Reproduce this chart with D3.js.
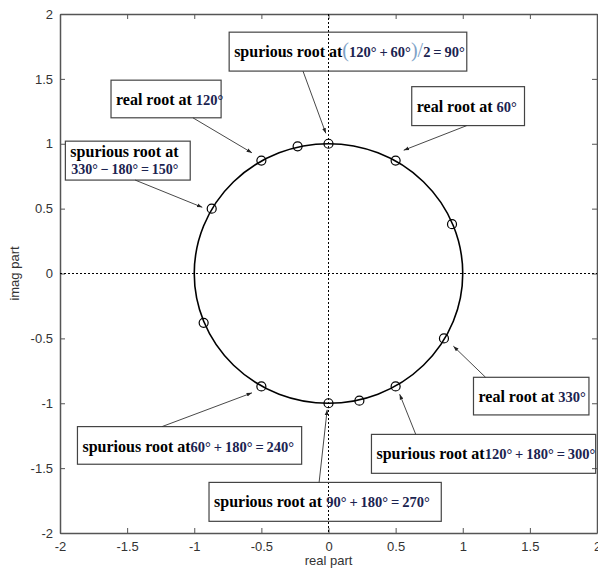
<!DOCTYPE html>
<html>
<head>
<meta charset="utf-8">
<script src="https://cdnjs.cloudflare.com/ajax/libs/d3/7.8.5/d3.min.js"></script>
<style>
  body { margin: 0; background: #fff; }
  .tick text { font-family: "Liberation Sans", Arial, sans-serif; font-size: 13px; fill: #333; }
  .note { font-family: "Liberation Serif", "Times New Roman", serif; font-weight: bold; }
</style>
</head>
<body>
<script>

// root locations (real / imag parts)
var rootRe = [0.92, 0.50, 0.00, -0.23, -0.50, -0.87, -0.93, -0.50, 0.00, 0.23, 0.50, 0.86];
var rootIm = [0.38, 0.87, 1.00, 0.98, 0.87, 0.50, -0.38, -0.87, -1.00, -0.98, -0.87, -0.50];

// the unit circle the roots sit on
var unitRadius = 1;

var xTicks = [-2, -1.5, -1, -0.5, 0, 0.5, 1, 1.5, 2];
var yTicks = [-2, -1.5, -1, -0.5, 0, 0.5, 1, 1.5, 2];

// annotation text (thin spaces round the operators)
var noteText = [
    [{t: "spurious root at"}, {t: "(", p: 1}, {t: "120°\u2009+\u200960°", m: 1}, {t: ")", p: 1}, {t: "/", p: 1}, {t: "2\u2009=\u200990°", m: 1}],
    [{t: "real root at "}, {t: "120°", m: 1}],
    [{t: "real root at "}, {t: "60°", m: 1}],
    [{t: "spurious root at"}],
    [{t: "real root at "}, {t: "330°", m: 1}],
    [{t: "spurious root at"}, {t: "60°\u2009+\u2009180°\u2009=\u2009240°", m: 1}],
    [{t: "spurious root at"}, {t: "120°\u2009+\u2009180°\u2009=\u2009300°", m: 1}],
    [{t: "spurious root at "}, {t: "90°\u2009+\u2009180°\u2009=\u2009270°", m: 1}]
];
var noteLine2 = [null, null, null, "330°\u2009−\u2009180°\u2009=\u2009150°", null, null, null, null];

var width = 598, height = 571;

var x = d3.scaleLinear().domain([-2, 2]).range([60, 597]);
var y = d3.scaleLinear().domain([-2, 2]).range([533, 14]);

var svg = d3.select("body").append("svg")
    .attr("width", width)
    .attr("height", height);

svg.append("defs").append("marker")
    .attr("id", "head")
    .attr("viewBox", "0 0 10 10")
    .attr("refX", 10).attr("refY", 5)
    .attr("markerWidth", 6).attr("markerHeight", 6)
    .attr("orient", "auto")
    .append("path")
    .attr("d", "M0,1.5L10,5L0,8.5z")
    .attr("fill", "#222");

// axes (matlab style box with inward ticks)
var axColor = "#555";
var fmt = function(d) { return String(d); };
var axB = svg.append("g").attr("transform", "translate(0," + y(-2) + ")")
    .call(d3.axisBottom(x).tickValues(xTicks).tickSizeInner(-5).tickSizeOuter(0).tickPadding(6).tickFormat(fmt));
var axL = svg.append("g").attr("transform", "translate(" + x(-2) + ",0)")
    .call(d3.axisLeft(y).tickValues(yTicks).tickSizeInner(-5).tickSizeOuter(0).tickPadding(7).tickFormat(fmt));
var axT = svg.append("g").attr("transform", "translate(0," + y(2) + ")")
    .call(d3.axisTop(x).tickValues(xTicks).tickSizeInner(-5).tickSizeOuter(0).tickFormat(""));
var axR = svg.append("g").attr("transform", "translate(" + x(2) + ",0)")
    .call(d3.axisRight(y).tickValues(yTicks).tickSizeInner(-5).tickSizeOuter(0).tickFormat(""));
[axB, axL, axT, axR].forEach(function(a) {
    a.selectAll("path, line").attr("stroke", axColor);
    a.select(".domain").attr("stroke-width", 1.5);
});
axB.selectAll(".tick text").attr("dy", "0.9em");

svg.append("text")
    .attr("x", x(0)).attr("y", 565)
    .attr("text-anchor", "middle")
    .style("font-family", "Liberation Sans, Arial, sans-serif")
    .style("font-size", "13px").style("fill", "#333")
    .text("real part");

svg.append("text")
    .attr("transform", "translate(19," + y(0) + ") rotate(-90)")
    .attr("text-anchor", "middle")
    .style("font-family", "Liberation Sans, Arial, sans-serif")
    .style("font-size", "13px").style("fill", "#333")
    .text("imag part");

// dotted zero lines
svg.append("line")
    .attr("x1", x(0)).attr("x2", x(0)).attr("y1", y(2)).attr("y2", y(-2))
    .attr("stroke", "#000").attr("stroke-dasharray", "2,2");
svg.append("line")
    .attr("x1", x(-2)).attr("x2", x(2)).attr("y1", y(0)).attr("y2", y(0))
    .attr("stroke", "#000").attr("stroke-dasharray", "2,2");

// unit circle
svg.append("ellipse")
    .attr("cx", x(0)).attr("cy", y(0))
    .attr("rx", x(unitRadius) - x(0))
    .attr("ry", y(0) - y(unitRadius))
    .attr("fill", "none")
    .attr("stroke", "#000")
    .attr("stroke-width", 1.6);

// root markers
svg.selectAll("circle.root")
    .data(rootRe)
    .enter()
    .append("circle")
    .attr("class", "root")
    .attr("cx", function(d) { return x(d); })
    .attr("cy", function(d, i) { return y(rootIm[i]); })
    .attr("r", 4.5)
    .attr("fill", "none")
    .attr("stroke", "#000")
    .attr("stroke-width", 1.2);

// annotation layout, in axis units: box corners, arrow start, arrow tip
var notes = [
    {box: [-0.74, 1.86, 1.03, 1.56], from: [-0.19, 1.56], to: [-0.02, 1.08]},
    {box: [-1.62, 1.49, -0.80, 1.20], from: [-1.01, 1.20], to: [-0.57, 0.93]},
    {box: [0.62, 1.44, 1.46, 1.14], from: [1.03, 1.14], to: [0.56, 0.95]},
    {box: [-1.96, 1.02, -1.03, 0.72], from: [-1.44, 0.72], to: [-0.94, 0.51]},
    {box: [1.08, -0.80, 1.94, -1.09], from: [1.17, -0.80], to: [0.93, -0.56]},
    {box: [-1.87, -1.18, -0.20, -1.47], from: [-1.24, -1.18], to: [-0.57, -0.92]},
    {box: [0.32, -1.24, 1.99, -1.54], from: [0.65, -1.24], to: [0.53, -0.93]},
    {box: [-0.89, -1.61, 0.84, -1.91], from: [-0.07, -1.61], to: [-0.01, -1.05]}
];

notes.forEach(function(n, i) {
    var g = svg.append("g");
    g.append("rect")
        .attr("x", x(n.box[0])).attr("y", y(n.box[1]))
        .attr("width", x(n.box[2]) - x(n.box[0]))
        .attr("height", y(n.box[3]) - y(n.box[1]))
        .attr("fill", "none")
        .attr("stroke", "#444")
        .attr("stroke-width", 1.2);
    g.append("line")
        .attr("x1", x(n.from[0])).attr("y1", y(n.from[1]))
        .attr("x2", x(n.to[0])).attr("y2", y(n.to[1]))
        .attr("stroke", "#333")
        .attr("stroke-width", 0.9)
        .attr("marker-end", "url(#head)");

    var twoLines = noteLine2[i] != null;
    var txt = g.append("text")
        .attr("class", "note")
        .attr("x", x(n.box[0]) + 5)
        .attr("y", y(n.box[1]) + (twoLines ? 16 : 25))
        .style("font-size", "16px");
    noteText[i].forEach(function(s) {
        var ts = txt.append("tspan").text(s.t);
        if (s.m) ts.style("fill", "#1b2350").style("font-size", "14.5px");
        if (s.p) ts.style("fill", "#7fa3c8").style("font-weight", "normal").style("font-size", "20px");
    });
    if (twoLines) {
        g.append("text")
            .attr("class", "note")
            .attr("x", x(n.box[0]) + 6)
            .attr("y", y(n.box[1]) + 33)
            .style("font-size", "14px")
            .style("fill", "#1b2350")
            .text(noteLine2[i]);
    }
});

</script>
</body>
</html>
